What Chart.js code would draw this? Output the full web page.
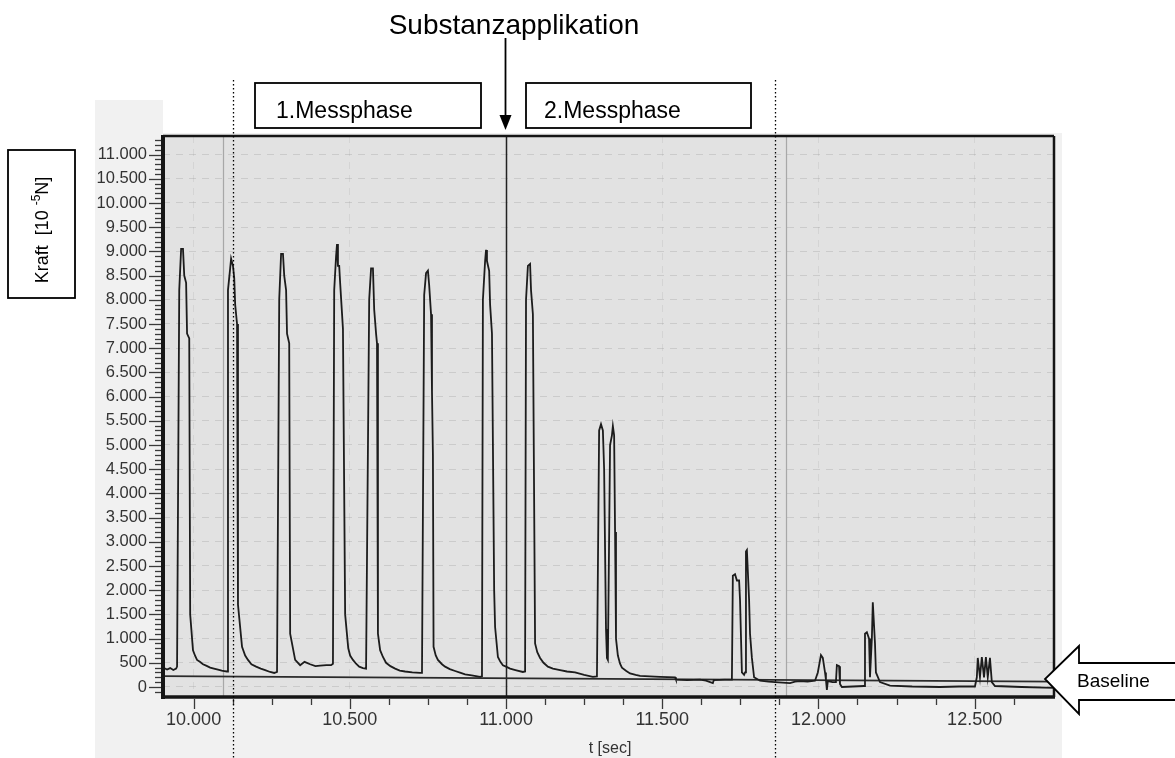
<!DOCTYPE html>
<html>
<head>
<meta charset="utf-8">
<script src="https://cdn.jsdelivr.net/npm/chart.js@4.4.1/dist/chart.umd.min.js"></script>
<style>
html,body{margin:0;padding:0;background:#ffffff;}
#wrap{position:relative;width:1175px;height:758px;}
</style>
</head>
<body>
<div id="wrap"><canvas id="c" width="1175" height="758"></canvas></div>
<script>
// ---- data ----
const timeSec = [
 9.902,9.915,9.925,9.935,9.944,
 9.947,9.954,9.960,9.966,9.970,9.976,9.979,9.986,9.989,9.998,10.005,10.011,10.020,10.030,10.040,10.053,10.065,10.078,10.090,10.098,
 10.107,10.110,10.117,10.120,10.126,10.130,10.133,10.139,10.142,10.155,10.165,10.174,10.185,10.200,10.215,10.229,10.245,10.258,
 10.267,10.274,10.280,10.286,10.290,10.296,10.299,10.306,10.309,10.325,10.341,10.355,10.373,10.390,10.405,10.425,10.440,
 10.446,10.450,10.456,10.459,10.462,10.466,10.469,10.478,10.485,10.495,10.501,10.510,10.520,10.530,10.542,
 10.552,10.562,10.568,10.574,10.578,10.584,10.587,10.590,10.597,10.606,10.616,10.630,10.645,10.660,10.677,10.700,10.725,
 10.731,10.738,10.744,10.750,10.754,10.760,10.763,10.766,10.768,10.775,10.782,10.795,10.805,10.820,10.837,10.855,10.869,10.890,10.917,
 10.923,10.926,10.933,10.936,10.939,10.946,10.949,10.955,10.962,10.965,10.974,10.982,10.990,11.000,11.013,11.030,11.054,
 11.061,11.064,11.070,11.077,11.080,11.086,11.093,11.100,11.109,11.120,11.134,11.150,11.173,11.195,11.221,11.250,11.278,
 11.291,11.298,11.304,11.310,11.314,11.320,11.323,11.326,11.333,11.339,11.342,11.346,11.349,11.352,11.358,11.365,11.371,11.385,11.397,11.415,11.429,11.460,11.493,11.541,11.544,11.580,11.621,11.640,11.662,11.665,11.700,
 11.723,11.726,11.733,11.739,11.746,11.749,11.755,11.762,11.765,11.768,11.771,11.778,11.781,11.787,11.794,11.813,11.840,11.861,11.885,11.909,11.925,11.941,11.965,11.989,
 11.998,12.008,12.014,12.021,12.024,12.027,12.030,12.045,12.056,12.059,12.066,12.069,12.075,12.110,12.146,
 12.149,12.155,12.162,12.165,12.171,12.174,12.181,12.184,12.197,12.229,12.300,12.389,12.450,12.501,
 12.507,12.510,12.517,12.523,12.530,12.536,12.542,12.549,12.555,12.565,12.650,12.754
];
const forceVals = [
 400,360,390,350,380,
 420,8200,9050,9050,8500,8350,7300,7200,1500,760,640,560,520,470,440,400,380,360,340,330,
 320,8200,8650,8850,8700,8450,7900,7500,1700,830,650,560,470,420,380,350,310,290,
 310,8000,8950,8950,8500,8200,7300,7100,1100,560,450,520,470,430,440,450,450,
 480,8200,8900,9150,8700,8700,8350,7400,1500,800,650,560,480,420,390,
 380,8000,8650,8650,7800,7300,7100,1100,760,620,500,430,380,340,320,300,290,
 290,8100,8550,8600,8300,7700,6100,4800,830,650,560,470,420,370,330,290,260,240,210,
 220,8000,8800,9030,8800,8600,7900,7300,2000,1240,620,520,450,420,380,350,310,
 320,8000,8700,8740,8200,7700,900,720,600,500,420,380,350,320,300,250,210,
 220,5300,5430,5300,4500,1200,600,560,5000,5200,5390,5200,3200,1000,650,480,400,330,280,250,230,220,210,200,150,140,150,130,80,140,150,
 150,2300,2330,2200,2200,1800,300,250,300,2800,2830,1800,1100,600,200,130,110,100,90,80,110,120,110,130,
 300,660,600,300,150,-60,120,100,100,450,430,60,0,10,20,
 1100,1130,1000,200,1000,1750,900,300,100,30,10,0,10,10,
 200,600,200,620,200,620,200,600,100,20,0,-20
];
const yTickValues = [0,500,1000,1500,2000,2500,3000,3500,4000,4500,5000,5500,6000,6500,7000,7500,8000,8500,9000,9500,10000,10500,11000];
const xTickValues = [10.0,10.5,11.0,11.5,12.0,12.5];
const baselineTimes = [9.902, 12.754];
const baselineVals = [225, 110];
const substanceTime = 11.0;
const phaseMarkerTimes = [10.126, 11.861];
const cursorTimes = [10.094, 11.896];
const phaseLabels = ['1.Messphase', '2.Messphase'];
const titleText = 'Substanzapplikation';
const xAxisTitle = 't [sec]';
const baselineLabel = 'Baseline';

const FONT = '"Liberation Sans", Arial, Helvetica, sans-serif';

function fmtY(v){
  if (v >= 1000) return (v/1000).toFixed(3);
  return String(v);
}

const deco = {
  id: 'deco',
  beforeDraw(chart){
    const {ctx, chartArea:a} = chart;
    ctx.save();
    ctx.fillStyle = '#f1f1f1';
    ctx.fillRect(95, 133, 967, 625);
    ctx.fillRect(95, 100, 68, 33);
    ctx.fillStyle = '#e2e2e2';
    ctx.fillRect(a.left, a.top, a.right - a.left, a.bottom - a.top);
    ctx.restore();
  },
  beforeDatasetsDraw(chart){
    const {ctx, chartArea:a, scales:{x}} = chart;
    ctx.save();
    ctx.strokeStyle = 'rgba(120,120,120,0.55)';
    ctx.lineWidth = 1.2;
    cursorTimes.forEach(t => {
      const px = Math.round(x.getPixelForValue(t)) + 0.5;
      ctx.beginPath(); ctx.moveTo(px, a.top); ctx.lineTo(px, a.bottom); ctx.stroke();
    });
    const sx = Math.round(x.getPixelForValue(substanceTime)) + 0.5;
    ctx.strokeStyle = '#222';
    ctx.lineWidth = 1.5;
    ctx.beginPath(); ctx.moveTo(sx, a.top); ctx.lineTo(sx, a.bottom); ctx.stroke();
    ctx.restore();
  },
  afterDraw(chart){
    const {ctx, chartArea:a, scales:{x, y}} = chart;
    ctx.save();
    // frame
    ctx.strokeStyle = '#151515';
    ctx.lineWidth = 2.5;
    ctx.beginPath(); ctx.moveTo(a.left, a.top); ctx.lineTo(a.right, a.top); ctx.stroke();
    ctx.beginPath(); ctx.moveTo(a.right, a.top); ctx.lineTo(a.right, a.bottom); ctx.stroke();
    ctx.lineWidth = 4;
    ctx.beginPath(); ctx.moveTo(a.left, a.top - 1); ctx.lineTo(a.left, a.bottom + 2); ctx.stroke();
    ctx.lineWidth = 3.5;
    ctx.beginPath(); ctx.moveTo(a.left - 2, a.bottom); ctx.lineTo(a.right + 1, a.bottom); ctx.stroke();

    // y ticks (major + minor)
    ctx.strokeStyle = '#3a3a3a';
    ctx.lineWidth = 1.3;
    for (let v = -200; v <= 11300; v += 100) {
      const py = Math.round(y.getPixelForValue(v)) + 0.5;
      if (py < a.top + 2 || py > a.bottom - 2) continue;
      const len = (v % 500 === 0) ? 12 : 6;
      ctx.beginPath(); ctx.moveTo(a.left - 2 - len, py); ctx.lineTo(a.left - 2, py); ctx.stroke();
    }
    // x ticks
    for (let k = -1; k <= 24; k++) {
      const t = 10 + k * 0.125;
      const px = Math.round(x.getPixelForValue(t)) + 0.5;
      if (px < a.left + 3 || px > a.right - 2) continue;
      const len = (k % 4 === 0) ? 10 : 6;
      ctx.beginPath(); ctx.moveTo(px, a.bottom + 2); ctx.lineTo(px, a.bottom + 2 + len); ctx.stroke();
    }

    // dotted phase marker lines
    ctx.strokeStyle = '#000';
    ctx.lineWidth = 1.3;
    ctx.setLineDash([1.5, 2.5]);
    phaseMarkerTimes.forEach(t => {
      const px = Math.round(x.getPixelForValue(t)) + 0.5;
      ctx.beginPath(); ctx.moveTo(px, 80); ctx.lineTo(px, 758); ctx.stroke();
    });
    ctx.setLineDash([]);

    // phase boxes
    ctx.strokeStyle = '#000';
    ctx.lineWidth = 1.8;
    ctx.fillStyle = '#fff';
    const boxes = [[255, 83, 226, 45, 276], [526, 83, 225, 45, 544]];
    boxes.forEach(b => {
      ctx.fillRect(b[0], b[1], b[2], b[3]);
      ctx.strokeRect(b[0], b[1], b[2], b[3]);
    });
    ctx.fillStyle = '#000';
    ctx.font = '23px ' + FONT;
    ctx.textBaseline = 'alphabetic';
    ctx.textAlign = 'left';
    boxes.forEach((b, i) => ctx.fillText(phaseLabels[i], b[4], 118));

    // title + arrow
    const sx = Math.round(x.getPixelForValue(substanceTime)) + 0.5;
    ctx.font = '28px ' + FONT;
    ctx.textAlign = 'center';
    ctx.fillText(titleText, 514, 34);
    ctx.lineWidth = 1.8;
    ctx.beginPath(); ctx.moveTo(sx - 1, 38); ctx.lineTo(sx - 1, 118); ctx.stroke();
    ctx.beginPath();
    ctx.moveTo(sx - 7, 115); ctx.lineTo(sx + 5, 115); ctx.lineTo(sx - 1, 130); ctx.closePath();
    ctx.fill();

    // y-axis title box
    ctx.lineWidth = 1.8;
    ctx.fillStyle = '#fff';
    ctx.fillRect(8, 150, 67, 148);
    ctx.strokeRect(8, 150, 67, 148);
    ctx.save();
    ctx.translate(48, 230);
    ctx.rotate(-Math.PI / 2);
    ctx.fillStyle = '#000';
    ctx.textAlign = 'left';
    const p1 = 'Kraft  [10 ';
    const p2 = '-5';
    const p3 = 'N]';
    ctx.font = '18px ' + FONT; const w1 = ctx.measureText(p1).width;
    ctx.font = '12px ' + FONT; const w2 = ctx.measureText(p2).width;
    ctx.font = '18px ' + FONT; const w3 = ctx.measureText(p3).width;
    let sxx = -(w1 + w2 + w3) / 2;
    ctx.font = '18px ' + FONT; ctx.fillText(p1, sxx, 0); sxx += w1;
    ctx.font = '12px ' + FONT; ctx.fillText(p2, sxx, -8); sxx += w2;
    ctx.font = '18px ' + FONT; ctx.fillText(p3, sxx, 0);
    ctx.restore();

    // x-axis title
    ctx.fillStyle = '#333';
    ctx.font = '16px ' + FONT;
    ctx.textAlign = 'center';
    ctx.fillText(xAxisTitle, 610, 753);

    // Baseline arrow
    ctx.fillStyle = '#fff';
    ctx.strokeStyle = '#000';
    ctx.lineWidth = 1.8;
    ctx.beginPath();
    ctx.moveTo(1177, 663);
    ctx.lineTo(1079, 663);
    ctx.lineTo(1079, 646);
    ctx.lineTo(1045, 679);
    ctx.lineTo(1079, 714);
    ctx.lineTo(1079, 700);
    ctx.lineTo(1177, 700);
    ctx.fill();
    ctx.stroke();
    ctx.fillStyle = '#000';
    ctx.textAlign = 'left';
    ctx.font = '19px ' + FONT;
    ctx.fillText(baselineLabel, 1077, 687);
    ctx.restore();
  }
};

const ctx = document.getElementById('c').getContext('2d');
new Chart(ctx, {
  type: 'line',
  data: {
    datasets: [
      {
        label: 'Kraft',
        data: timeSec.map((t, i) => ({x: t, y: forceVals[i]})),
        borderColor: '#1c1c1c',
        borderWidth: 1.8,
        pointRadius: 0,
        tension: 0,
        fill: false
      },
      {
        label: 'Baseline',
        data: baselineTimes.map((t, i) => ({x: t, y: baselineVals[i]})),
        borderColor: '#2a2a2a',
        borderWidth: 1.6,
        pointRadius: 0,
        tension: 0,
        fill: false
      }
    ]
  },
  options: {
    responsive: false,
    devicePixelRatio: 1,
    animation: false,
    events: [],
    layout: { padding: { top: 136, right: 121, left: 0, bottom: 0 } },
    plugins: { legend: { display: false }, tooltip: { enabled: false } },
    scales: {
      x: {
        type: 'linear',
        min: 9.902,
        max: 12.754,
        afterFit: s => { s.height = 61; },
        afterBuildTicks: s => { s.ticks = xTickValues.map(v => ({value: v})); },
        grid: { drawTicks: false, color: 'rgba(150,150,150,0.18)', lineWidth: 1 },
        border: { display: false, dash: [7, 6] },
        ticks: {
          padding: 12,
          color: '#333',
          font: { family: FONT, size: 18 },
          maxRotation: 0,
          autoSkip: false,
          callback: v => Number(v).toFixed(3)
        }
      },
      y: {
        type: 'linear',
        min: -207,
        max: 11384,
        afterFit: s => { s.width = 163; },
        afterBuildTicks: s => { s.ticks = yTickValues.map(v => ({value: v})); },
        grid: { drawTicks: false, color: 'rgba(150,150,150,0.3)', lineWidth: 1 },
        border: { display: false, dash: [7, 6] },
        ticks: {
          padding: 16,
          color: '#333',
          font: { family: FONT, size: 16.5 },
          autoSkip: false,
          callback: v => fmtY(v)
        }
      }
    }
  },
  plugins: [deco]
});
</script>
</body>
</html>
